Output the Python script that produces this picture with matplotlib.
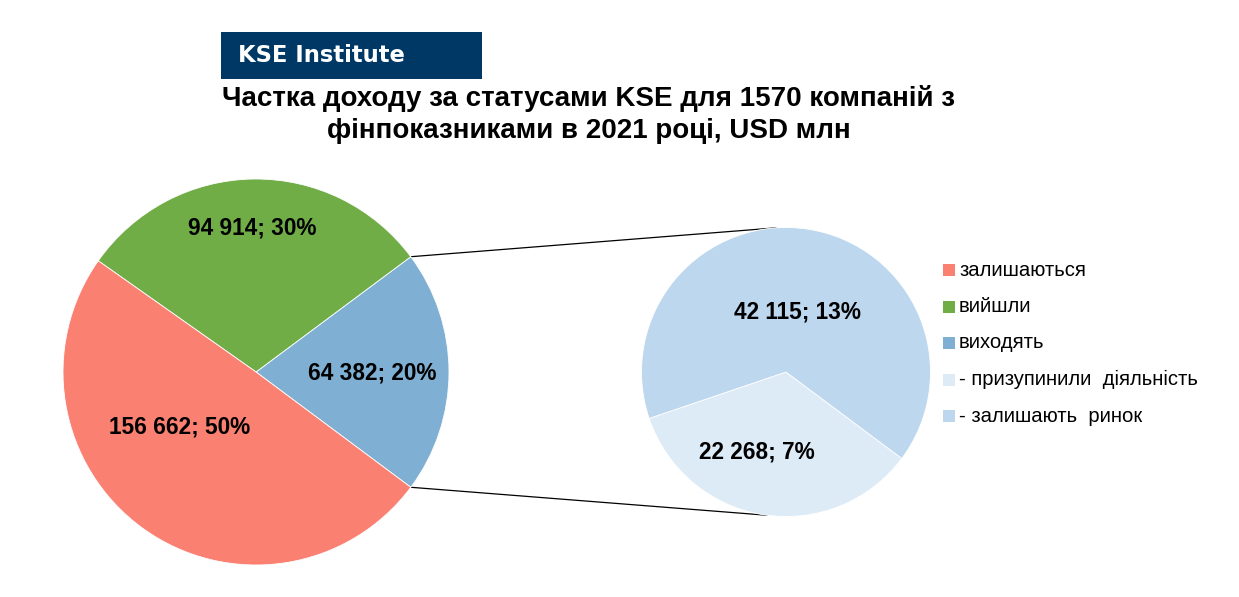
import numpy as np
import matplotlib
matplotlib.use("Agg")
import matplotlib.pyplot as plt
from matplotlib.patches import Rectangle

plt.rcParams['font.family'] = ['Liberation Sans', 'DejaVu Sans']

# data (USD mln)
main_labels = ["залишаються", "вийшли", "виходять"]
main_values = [156662, 94914, 64382]
main_colors = ["#FA8072", "#70AD47", "#7FB0D3"]

sub_labels = ["- призупинили  діяльність", "- залишають  ринок"]
sub_values = [22268, 42115]
sub_colors = ["#DDEBF7", "#BDD7EE"]

title = "Частка доходу за статусами KSE для 1570 компаній з\nфінпоказниками в 2021 році, USD млн"

total = sum(main_values)

def fmt(v):
    return "{:,}".format(v).replace(",", " ") + "; {:.0f}%".format(100 * v / total)

W, H = 1239, 597
fig = plt.figure(figsize=(W / 100, H / 100), dpi=100)
ax = fig.add_axes([0, 0, 1, 1])

# left pie, ordered counter-clockwise: виходять, вийшли, залишаються
c1 = (256, H - 372)
r1 = 193
blue_ang = 360 * main_values[2] / total
order = [2, 1, 0]
w1, _ = ax.pie([main_values[i] for i in order], colors=[main_colors[i] for i in order],
               startangle=-blue_ang / 2, counterclock=True, center=c1, radius=r1,
               wedgeprops=dict(linewidth=0.6, edgecolor="white"))

# right pie (breakdown of виходять)
c2 = (786, H - 372)
r2 = 144.5
sub_total = sum(sub_values)
light_ang = 360 * sub_values[0] / sub_total
w2, _ = ax.pie(sub_values, colors=sub_colors, startangle=261 - light_ang / 2,
               counterclock=True, center=c2, radius=r2,
               wedgeprops=dict(linewidth=0.6, edgecolor="white"))

# connector lines
a = np.deg2rad(blue_ang / 2)
for sgn, ang2 in [(1, 94), (-1, 262.5)]:
    x0 = c1[0] + r1 * np.cos(a)
    y0 = c1[1] + sgn * r1 * np.sin(a)
    x1 = c2[0] + r2 * np.cos(np.deg2rad(ang2))
    y1 = c2[1] + r2 * np.sin(np.deg2rad(ang2))
    ax.plot([x0, x1], [y0, y1], color="black", lw=0.9, zorder=0)

# data labels
lbl_pos = {0: (180, 427), 1: (252, 228), 2: (372, 373)}
for i, v in enumerate(main_values):
    x, y = lbl_pos[i]
    ax.text(x, H - y, fmt(v), ha="center", va="center", fontsize=16.3, fontweight="bold")
sub_pos = [(757, 452), (798, 312)]
for v, (x, y) in zip(sub_values, sub_pos):
    ax.text(x, H - y, fmt(v), ha="center", va="center", fontsize=16.3, fontweight="bold")

# legend
leg_names = main_labels + sub_labels
leg_colors = main_colors + sub_colors
for k, (name, col) in enumerate(zip(leg_names, leg_colors)):
    y = H - (270 + k * 36.5)
    ax.add_patch(Rectangle((943, y - 6), 12, 12, color=col, lw=0))
    ax.text(959, y, name, ha="left", va="center", fontsize=14.6)

# header box and title
ax.add_patch(Rectangle((221, H - 79), 261, 47, color="#003865", lw=0))
ax.text(238, H - 55, "KSE Institute", ha="left", va="center", fontsize=16.3,
        fontweight="bold", color="white", family="DejaVu Sans")
ax.text(589, H - 114, title, ha="center", va="center", fontsize=20,
        fontweight="bold", linespacing=1.3)

ax.set_xlim(0, W)
ax.set_ylim(0, H)
ax.set_aspect("equal")
ax.axis("off")

fig.savefig("out.png", dpi=100)
